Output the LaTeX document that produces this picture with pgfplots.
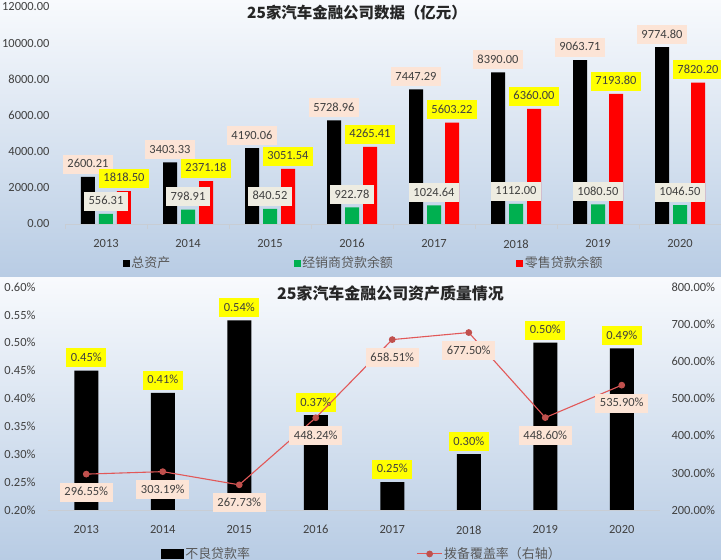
\documentclass[border=0pt]{standalone}
\usepackage{pgfplots}
\pgfplotsset{compat=1.18}
\usepackage{pgfplotstable}
\usepackage{fontspec}
\setmainfont{Carlito}
\newfontfamily\cjk{Noto Sans CJK SC}
\definecolor{txt}{RGB}{64,64,64}
\definecolor{legtxt}{RGB}{89,89,89}
\definecolor{bgtop}{RGB}{248,250,253}
\definecolor{bgbot}{RGB}{184,204,228}
\definecolor{peach}{RGB}{252,228,214}
\definecolor{beige}{RGB}{238,236,225}
\definecolor{ylw}{RGB}{255,255,0}
\definecolor{grn}{RGB}{0,176,80}
\definecolor{axgray}{RGB}{200,205,212}
\definecolor{linered}{RGB}{226,88,88}
\definecolor{markred}{RGB}{192,80,77}
\pgfplotsset{/pgf/number format/assume math mode=true}

\pgfplotstableread{
x total dealer retail
0 2600.21 556.31 1818.50
1 3403.33 798.91 2371.18
2 4190.06 840.52 3051.54
3 5728.96 922.78 4265.41
4 7447.29 1024.64 5603.22
5 8390.00 1112.00 6360.00
6 9063.71 1080.50 7193.80
7 9774.80 1046.50 7820.20
}\topdata

\pgfplotstableread{
x npl cover
0 0.45 296.55
1 0.41 303.19
2 0.54 267.73
3 0.37 448.24
4 0.25 658.51
5 0.30 677.50
6 0.50 448.60
7 0.49 535.90
}\botdata

\tikzset{
  lbl/.style={font=\fontsize{12.5}{14}\selectfont, text=txt, inner xsep=4.5bp, inner ysep=4.5bp, text height=8.5bp, text depth=1.5bp},
  tl/.style={font=\fontsize{12.5}{14}\selectfont, text=txt},
}
\pgfplotsset{
  sqlegend/.style={legend image code/.code={\fill[##1] (0bp,-3.5bp) rectangle (7bp,3.5bp);}},
  linelegend/.style={legend image code/.code={\draw[mark repeat=2, mark phase=2, ##1] plot coordinates {(0bp,0bp) (12.5bp,0bp) (25bp,0bp)};}},
}

\begin{document}
\begin{tikzpicture}
\useasboundingbox (0bp,0bp) rectangle (721bp,560bp);
\shade[top color=bgtop, bottom color=bgbot] (0bp,282bp) rectangle (721bp,560bp);
\shade[top color=bgtop, bottom color=bgbot] (0bp,0bp) rectangle (721bp,282bp);

% ---------------- top panel ----------------
\begin{axis}[
  at={(65bp,336bp)}, anchor=south west,
  scale only axis, width=656bp, height=217bp,
  ybar, bar width=14bp,
  sqlegend,
  xmin=-0.5, xmax=7.5, ymin=0, ymax=12000,
  scaled y ticks=false,
  ytick={0,2000,4000,6000,8000,10000,12000},
  yticklabel={\pgfmathprintnumber[fixed,fixed zerofill,precision=2,1000 sep={}]{\tick}},
  xtick={0,1,2,3,4,5,6,7},
  xticklabels={2013,2014,2015,2016,2017,2018,2019,2020},
  minor xtick={-0.5,0.5,1.5,2.5,3.5,4.5,5.5,6.5,7.5},
  major tick length=0pt, minor tick length=5bp, tick align=outside, tick pos=left,
  minor tick style={axgray, line width=0.8bp},
  axis line style={draw=none},
  tick label style={tl},
  yticklabel style={xshift=-12bp},
  xticklabel style={yshift=-12bp},
  after end axis/.code={\draw[axgray, line width=0.8bp] (rel axis cs:0,0) -- (rel axis cs:1,0);},
  legend columns=-1,
  legend style={at={(0.088,-0.18)}, anchor=west, draw=none, fill=none, inner sep=0pt,
    font=\cjk\fontsize{13}{15}\selectfont, text=legtxt,
    nodes={inner xsep=1.5bp},
    /tikz/every even column/.append style={column sep=122bp}},
]
\addplot[fill=black, draw=none, bar shift=-18bp, sqlegend] table[x=x,y=total]{\topdata};
\addlegendentry{总资产}
\addplot[fill=grn, draw=none, bar shift=0bp, sqlegend] table[x=x,y=dealer]{\topdata};
\addlegendentry{经销商贷款余额}
\addplot[fill=red, draw=none, bar shift=18bp, sqlegend] table[x=x,y=retail]{\topdata};
\addlegendentry{零售贷款余额}
% labels
\addplot[draw=none, fill=none, bar shift=-18bp, forget plot, point meta=explicit symbolic,
  nodes near coords, every node near coord/.append style={lbl, fill=peach, anchor=south, yshift=3bp}]
  table[x=x,y=total,meta=total]{\topdata};
\addplot[draw=none, fill=none, bar shift=18bp, forget plot, point meta=explicit symbolic,
  nodes near coords, every node near coord/.append style={lbl, fill=ylw, anchor=south, yshift=3bp}]
  table[x=x,y=retail,meta=retail]{\topdata};
\addplot[draw=none, fill=none, bar shift=0bp, forget plot, point meta=explicit symbolic,
  nodes near coords, every node near coord/.append style={lbl, fill=beige, anchor=south, yshift=3bp}]
  table[x=x,y=dealer,meta=dealer]{\topdata};
\end{axis}
\node[anchor=west, inner sep=0pt, font=\cjk\bfseries\fontsize{15.5}{18}\selectfont, text=black!85] at (247bp,547bp) {25家汽车金融公司数据（亿元）};

% ---------------- bottom panel ----------------
\begin{axis}[
  at={(48bp,50bp)}, anchor=south west,
  scale only axis, width=612bp, height=223bp,
  ybar, bar width=24bp,
  xmin=-0.5, xmax=7.5, ymin=0.2, ymax=0.6,
  ytick={0.2,0.25,0.3,0.35,0.4,0.45,0.5,0.55,0.6},
  yticklabel={\pgfmathprintnumber[fixed,fixed zerofill,precision=2]{\tick}\%},
  xtick={0,1,2,3,4,5,6,7},
  xticklabels={2013,2014,2015,2016,2017,2018,2019,2020},
  major tick length=0pt, tick pos=left,
  axis line style={draw=none},
  tick label style={tl},
  yticklabel style={xshift=-9bp},
  xticklabel style={yshift=-12bp},
  after end axis/.code={\draw[axgray, line width=0.8bp] (rel axis cs:0,0) -- (rel axis cs:1,0);},
]
\addplot[fill=black, draw=none, bar shift=0bp, point meta=explicit symbolic,
  nodes near coords={\pgfplotspointmeta\%},
  every node near coord/.append style={lbl, fill=ylw, anchor=south, yshift=3bp}]
  table[x=x,y=npl,meta=npl]{\botdata};
\end{axis}

\begin{axis}[
  at={(48bp,50bp)}, anchor=south west,
  scale only axis, width=612bp, height=223bp,
  xmin=-0.5, xmax=7.5, ymin=200, ymax=800,
  ytick={200,300,400,500,600,700,800},
  yticklabel={\pgfmathprintnumber[fixed,fixed zerofill,precision=2]{\tick}\%},
  yticklabel pos=right,
  hide x axis,
  major tick length=0pt,
  axis line style={draw=none},
  tick label style={tl},
  yticklabel style={xshift=8bp},
  legend columns=-1,
  legend style={at={(0.185,-0.197)}, anchor=west, draw=none, fill=none, inner sep=0pt,
    font=\cjk\fontsize{13}{15}\selectfont, text=legtxt,
    nodes={inner xsep=1.5bp},
    /tikz/every even column/.append style={column sep=165bp}},
]
\addlegendimage{legend image code/.code={\fill[black] (0bp,-4.5bp) rectangle (22bp,4.5bp);}}
\addlegendentry{不良贷款率}
\addplot[linered, line width=1.1bp, mark=*, mark size=2.8bp,
  mark options={fill=markred, draw=markred},
  linelegend,
  point meta=explicit symbolic,
  nodes near coords={\pgfplotspointmeta\%},
  every node near coord/.append style={lbl, fill=peach, anchor=north, yshift=-8bp}]
  table[x=x,y=cover,meta=cover]{\botdata};
\addlegendentry{拨备覆盖率（右轴）}
\end{axis}
\node[anchor=west, inner sep=0pt, font=\cjk\bfseries\fontsize{16}{19}\selectfont, text=black!85] at (277bp,267bp) {25家汽车金融公司资产质量情况};
\end{tikzpicture}
\end{document}
